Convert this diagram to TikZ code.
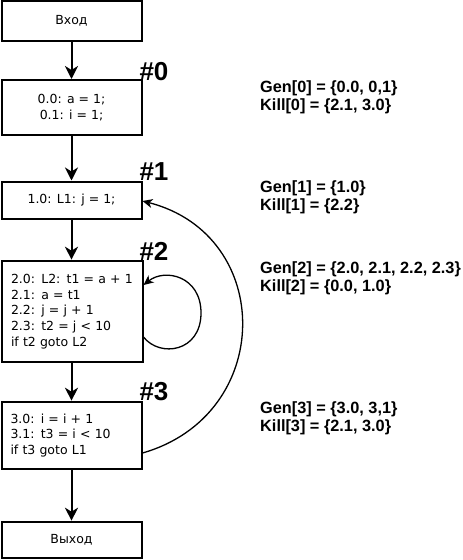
\documentclass[tikz,border=0pt]{standalone}
\usepackage{fontspec}
\newfontfamily\codefont{DejaVu Sans}
\newfontfamily\notefont{Liberation Sans}
\usetikzlibrary{arrows.meta}
\begin{document}
\begin{tikzpicture}[x=1pt,y=-1pt,
  block/.style={draw, line width=2pt, minimum width=140pt, inner sep=0pt,
    font=\codefont\fontsize{12.5}{15.7}\selectfont, align=center},
  leftblock/.style={block, align=left, text width=122pt},
  flow/.style={line width=2pt, -{Stealth[length=13pt,width=13pt,inset=4pt]}},
  back/.style={line width=1.3pt, -{Stealth[length=10pt,width=9pt,inset=3pt]}},
  tag/.style={font=\notefont\bfseries\fontsize{26}{26}\selectfont, inner sep=0pt},
  sets/.style={font=\notefont\bfseries\fontsize{16.3}{18}\selectfont,
    align=left, anchor=west, inner sep=0pt}]
\useasboundingbox (0,0) rectangle (463,560);

% basic blocks
\node[block, minimum height=40pt] (in) at (71.5,21) {Вход};
\node[block, minimum height=55pt] (b0) at (71.5,107.5) {0.0: a = 1;\\0.1: i = 1;};
\node[block, minimum height=37pt] (b1) at (71.5,200) {1.0: L1: j = 1;};
\node[leftblock, minimum width=141pt, minimum height=101.6pt] (b2) at (72,311.5)
  {2.0: L2: t1 = a + 1\\2.1: a = t1\\2.2: j = j + 1\\2.3: t2 = j < 10\\if t2 goto L2};
\node[leftblock, minimum height=67.6pt] (b3) at (71.5,435.5)
  {3.0: i = i + 1\\3.1: t3 = i < 10\\if t3 goto L1};
\node[block, minimum height=36.6pt] (out) at (71.5,540) {Выход};

% block numbers
\node[tag] (t0) at (154,72) {\#0};
\node[tag] (t1) at (154,172) {\#1};
\node[tag] (t2) at (154,251) {\#2};
\node[tag] (t3) at (154,392) {\#3};

% gen / kill sets
\node[sets] (s0) at (260,97) {Gen[0] = \{0.0, 0,1\}\\Kill[0] = \{2.1, 3.0\}};
\node[sets] (s1) at (260,197) {Gen[1] = \{1.0\}\\Kill[1] = \{2.2\}};
\node[sets] (s2) at (260,278) {Gen[2] = \{2.0, 2.1, 2.2, 2.3\}\\Kill[2] = \{0.0, 1.0\}};
\node[sets] (s3) at (260,418) {Gen[3] = \{3.0, 3,1\}\\Kill[3] = \{2.1, 3.0\}};

% straight flow
\draw[flow] (in) -- (b0);
\draw[flow] (b0) -- (b1);
\draw[flow] (b1.south) -- (b1.south |- b2.north);
\draw[flow] (b3.south |- b2.south) -- (b3.north);
\draw[flow] (b3) -- (out);

% back edges
\draw[back] ([yshift=-25.5pt]b2.east) .. controls (160,358) and (201,352) .. (201,313)
  .. controls (201,276) and (165,268) .. ([yshift=26.5pt]b2.east);
\draw[back] ([yshift=-17.5pt]b3.east) .. controls (275,415) and (275,235) .. ([yshift=-1pt]b1.east);
\end{tikzpicture}
\end{document}
